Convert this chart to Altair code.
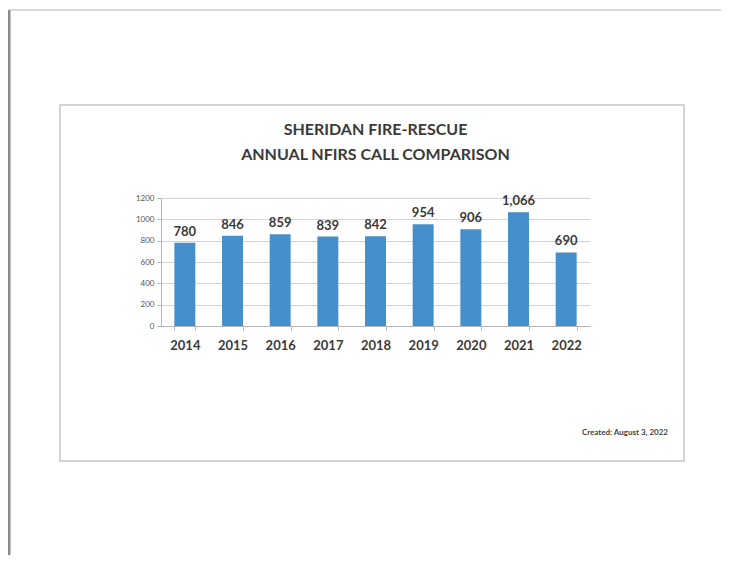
import altair as alt
import pandas as pd

years = ["2014", "2015", "2016", "2017", "2018", "2019", "2020", "2021", "2022"]
calls = [780, 846, 859, 839, 842, 954, 906, 1066, 690]
y_ticks = [0, 200, 400, 600, 800, 1000, 1200]
title_line1 = "SHERIDAN FIRE-RESCUE"
title_line2 = "ANNUAL NFIRS CALL COMPARISON"
created_note = "Created:  August 3, 2022"

df = pd.DataFrame({"year": years, "calls": calls})
one = pd.DataFrame({"k": [0]})

FONT = "Lato"
TXT = "#3a3a3a"

x_enc = alt.X(
    "year:N",
    sort=years,
    scale=alt.Scale(paddingInner=0.56, paddingOuter=0.28),
    axis=alt.Axis(
        title=None, labelAngle=0, labelFont=FONT, labelFontSize=13,
        labelFontWeight="bold", labelColor=TXT, labelPadding=9,
        domainColor="#b5b5b5", tickColor="#b5b5b5", tickSize=4,
        tickBand="extent", grid=False,
    ),
)
y_enc = alt.Y(
    "calls:Q",
    scale=alt.Scale(domain=[0, 1200], nice=False),
    axis=alt.Axis(
        title=None, values=y_ticks, tickCount=7, format="d", labelOverlap=False,
        labelFont=FONT, labelFontSize=8,
        labelColor="#555555", labelPadding=3, domainColor="#b5b5b5",
        tickColor="#b5b5b5", tickSize=4, grid=True, gridColor="#d2d2d2",
        gridWidth=1.2,
    ),
)

# decorative page edge and chart frame
page_left = alt.Chart(one).mark_rule(color="#8a8a8a", strokeWidth=3).encode(
    x=alt.value(-152), y=alt.value(-188), y2=alt.value(357)
)
page_top = alt.Chart(one).mark_rule(color="#b0b0b0", strokeWidth=1).encode(
    x=alt.value(-152), x2=alt.value(560), y=alt.value(-188)
)
frame = alt.Chart(one).mark_rect(
    fillOpacity=0, stroke="#c8c8c8", strokeWidth=1.5
).encode(
    x=alt.value(-101), x2=alt.value(523), y=alt.value(-93), y2=alt.value(263)
)

title1 = alt.Chart(one).mark_text(
    align="center", baseline="middle", font=FONT, fontSize=16, fontWeight="bold", color=TXT
).encode(x=alt.value(214.5), y=alt.value(-68), text=alt.datum(title_line1))
title2 = alt.Chart(one).mark_text(
    align="center", baseline="middle", font=FONT, fontSize=16, fontWeight="bold", color=TXT
).encode(x=alt.value(214.5), y=alt.value(-43), text=alt.datum(title_line2))

bars = alt.Chart(df).mark_bar(color="#458fcb").encode(x=x_enc, y=y_enc)
labels = alt.Chart(df).mark_text(
    baseline="bottom", dy=-4, font=FONT, fontSize=13, fontWeight="bold", color=TXT
).encode(x=x_enc, y=y_enc, text=alt.Text("calls:Q", format=","))

note = alt.Chart(one).mark_text(
    align="right", baseline="middle", font=FONT, fontSize=8, fontWeight="bold", color="#444"
).encode(x=alt.value(507), y=alt.value(235), text=alt.datum(created_note))

chart = alt.layer(frame, page_left, page_top, title1, title2, bars, labels, note).properties(
    width=429,
    height=128,
    padding={"left": 153, "top": 190, "right": 131, "bottom": 229},
    autosize=alt.AutoSizeParams(type="none"),
    background="white",
).configure_view(stroke=None)

chart.save("out.html", embed_options={"renderer": "svg", "actions": False})
